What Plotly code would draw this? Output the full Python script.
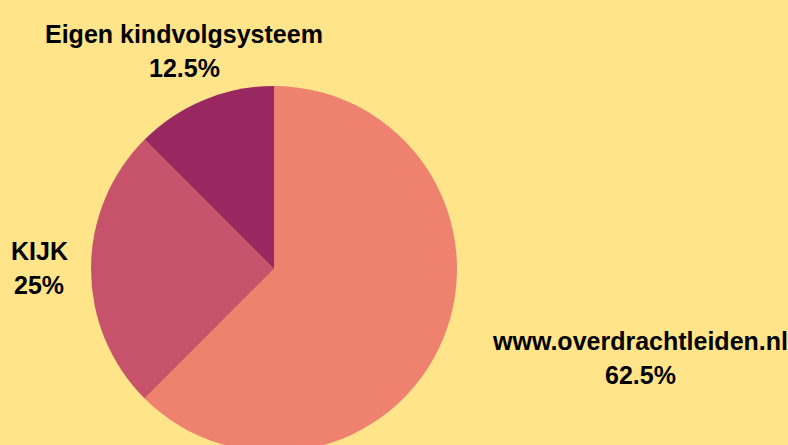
import plotly.graph_objects as go

labels = ["www.overdrachtleiden.nl", "KIJK", "Eigen kindvolgsysteem"]
values = [62.5, 25, 12.5]
colors = ["#EF826F", "#C7536B", "#9A2860"]

W, H = 788, 460
BG = "#FFE48A"

# pie geometry in pixels (center, radius)
cx, cy, r = 274, 269, 183

fig = go.Figure(go.Pie(
    labels=labels, values=values, sort=False, direction="clockwise", rotation=0,
    marker=dict(colors=colors, line=dict(width=0)),
    textinfo="none", hoverinfo="label+percent",
    domain=dict(x=[(cx - r) / W, (cx + r) / W], y=[(H - cy - r) / H, (H - cy + r) / H]),
    showlegend=False,
))

total = sum(values)
pcts = [f"{v / total * 100:g}%" for v in values]

# label line positions (pixel centers)
label_pos = {
    "www.overdrachtleiden.nl": (640, 341, 375),
    "KIJK": (39, 251, 285),
    "Eigen kindvolgsysteem": (184, 34, 68),
}
font = dict(family="Liberation Sans, Arial, sans-serif", size=25, color="#000000")
anns = []
for lab, pct in zip(labels, pcts):
    x, y1, y2 = label_pos[lab]
    for txt, y in ((lab, y1), (pct, y2)):
        anns.append(dict(text=f"<b>{txt}</b>", x=x / W, y=(H - y) / H, xref="paper", yref="paper",
                         xanchor="center", yanchor="middle", showarrow=False, font=font))

fig.update_layout(
    width=W, height=H, margin=dict(l=0, r=0, t=0, b=0),
    paper_bgcolor=BG, plot_bgcolor=BG, annotations=anns,
)

fig.write_html("out.html", config={"displayModeBar": False},
               post_script="document.body.style.margin='0';document.body.style.overflow='hidden';document.documentElement.style.overflow='hidden';document.body.style.background='" + BG + "';")
